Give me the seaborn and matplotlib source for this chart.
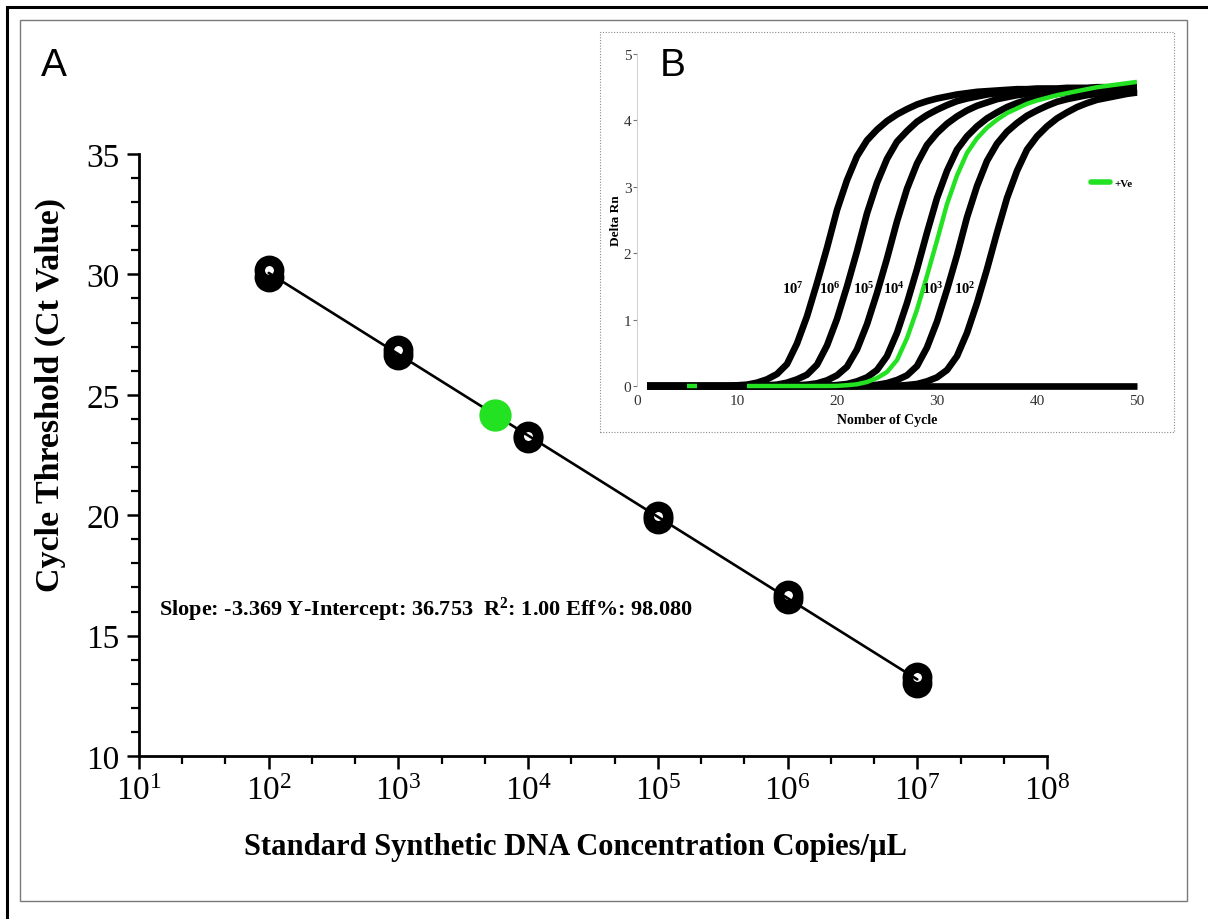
import numpy as np
import pandas as pd
import matplotlib
matplotlib.use("Agg")
import matplotlib.pyplot as plt
import seaborn as sns
from matplotlib.patches import Rectangle
from matplotlib.lines import Line2D
from matplotlib.ticker import FixedLocator, MultipleLocator, NullFormatter

# ---------------- data (panel A: standard curve) ----------------
concentration = [1e2, 1e2, 1e3, 1e3, 1e4, 1e4, 1e5, 1e5, 1e6, 1e6, 1e7, 1e7]
ct_value = [29.9, 30.2, 26.65, 26.85, 23.2, 23.3, 19.85, 19.95, 16.5, 16.7, 13.05, 13.3]
positive_conc = [5.6e3]
positive_ct = [24.15]
x_ticks = [1e1, 1e2, 1e3, 1e4, 1e5, 1e6, 1e7, 1e8]
y_ticks = [10, 15, 20, 25, 30, 35]
stats_text = r"Slope: -3.369 Y-Intercept: 36.753  R$^{\mathbf{2}}$: 1.00 Eff%: 98.080"
x_label = "Standard Synthetic DNA Concentration Copies/µL"
y_label = "Cycle Threshold (Ct Value)"

# ---------------- data (panel B: amplification curves) ----------------
cycles = list(range(1, 51))
curve_1e7 = [0, 0, 0, 0, 0, 0, 0, 0, 0,
             0.01, 0.02, 0.05, 0.10, 0.18, 0.33, 0.64, 1.05, 1.55, 2.08, 2.65,
             3.10, 3.46, 3.70, 3.86, 3.99, 4.09, 4.17, 4.24, 4.29, 4.33,
             4.36, 4.39, 4.41, 4.43, 4.44, 4.45, 4.46, 4.47, 4.47, 4.48,
             4.48, 4.48, 4.49, 4.49, 4.49, 4.50, 4.50, 4.50, 4.50, 4.50]
curve_1e6 = [0, 0, 0, 0, 0, 0, 0, 0, 0, 0, 0, 0,
             0.01, 0.02, 0.05, 0.10, 0.17, 0.32, 0.61, 1.01, 1.50, 2.03, 2.60,
             3.06, 3.42, 3.68, 3.84, 3.98, 4.08, 4.16, 4.23, 4.29, 4.33,
             4.36, 4.39, 4.41, 4.43, 4.44, 4.45, 4.46, 4.47, 4.47, 4.47,
             4.48, 4.48, 4.48, 4.48, 4.49, 4.49, 4.49]
curve_1e5 = [0, 0, 0, 0, 0, 0, 0, 0, 0, 0, 0, 0, 0, 0, 0,
             0.01, 0.02, 0.04, 0.085, 0.16, 0.29, 0.55, 0.93, 1.40, 1.92,
             2.48, 2.97, 3.35, 3.63, 3.81, 3.95, 4.06, 4.15, 4.22, 4.27,
             4.32, 4.35, 4.38, 4.40, 4.42, 4.43, 4.44, 4.45, 4.46, 4.46,
             4.46, 4.47, 4.47, 4.47, 4.48]
curve_1e4 = [0, 0, 0, 0, 0, 0, 0, 0, 0, 0, 0, 0, 0, 0, 0, 0, 0, 0,
             0.005, 0.014, 0.03, 0.07, 0.13, 0.24, 0.45, 0.80, 1.25, 1.76,
             2.31, 2.83, 3.24, 3.56, 3.76, 3.91, 4.03, 4.12, 4.20, 4.26,
             4.31, 4.34, 4.37, 4.40, 4.42, 4.43, 4.44, 4.45, 4.45, 4.46,
             4.46, 4.47]
curve_1e3 = [0, 0, 0, 0, 0, 0, 0, 0, 0, 0, 0, 0, 0, 0, 0, 0, 0, 0, 0, 0, 0, 0,
             0.008, 0.018, 0.044, 0.09, 0.16, 0.30, 0.58, 0.97, 1.45, 1.97,
             2.54, 3.01, 3.39, 3.65, 3.83, 3.96, 4.07, 4.15, 4.22, 4.28,
             4.32, 4.35, 4.38, 4.40, 4.42, 4.43, 4.44, 4.45]
curve_1e2 = [0, 0, 0, 0, 0, 0, 0, 0, 0, 0, 0, 0, 0, 0, 0, 0, 0, 0, 0, 0,
             0, 0, 0, 0, 0,
             0.004, 0.014, 0.03, 0.07, 0.13, 0.24, 0.45, 0.80, 1.25, 1.76,
             2.31, 2.83, 3.24, 3.56, 3.76, 3.91, 4.03, 4.12, 4.20, 4.26,
             4.31, 4.34, 4.37, 4.40, 4.42]
curve_ntc = [0, 0, 0, 0, 0, 0, 0, 0, 0, 0, 0, 0, 0, 0, 0, 0, 0, 0, 0, 0,
             0, 0, 0, 0, 0, 0, 0, 0, 0, 0, 0, 0, 0, 0, 0, 0, 0, 0, 0, 0,
             0, 0, 0, 0, 0, 0, 0, 0, 0, 0]
nan = float("nan")
curve_positive = [nan, nan, nan, nan, 0, 0, nan, nan, nan, nan,
                  0, 0, 0, 0, 0, 0, 0, 0, 0,
                  0.002, 0.012, 0.026, 0.06, 0.12, 0.21, 0.39, 0.72, 1.15, 1.66,
                  2.19, 2.74, 3.17, 3.51, 3.73, 3.89, 4.01, 4.11, 4.18, 4.25,
                  4.30, 4.34, 4.38, 4.41, 4.44, 4.47, 4.50, 4.52, 4.54, 4.56, 4.58]
curve_names = ["1e7", "1e6", "1e5", "1e4", "1e3", "1e2", "NTC"]
curve_labels = [r"$\mathbf{10^{7}}$", r"$\mathbf{10^{6}}$", r"$\mathbf{10^{5}}$",
                r"$\mathbf{10^{4}}$", r"$\mathbf{10^{3}}$", r"$\mathbf{10^{2}}$"]
curve_label_cycle = [15.6, 19.3, 22.7, 25.7, 29.6, 32.8]
curve_label_level = 1.48
inset_x_ticks = [0, 10, 20, 30, 40, 50]
inset_y_ticks = [0, 1, 2, 3, 4, 5]

GREEN = "#22e222"

# ---------------- style ----------------
sns.set_theme(style="ticks")
plt.rcParams["font.family"] = ["Liberation Serif", "DejaVu Serif"]
plt.rcParams["mathtext.fontset"] = "custom"
plt.rcParams["mathtext.rm"] = "Liberation Serif"
plt.rcParams["mathtext.it"] = "Liberation Serif:italic"
plt.rcParams["mathtext.bf"] = "Liberation Serif:bold"
plt.rcParams["text.color"] = "black"
plt.rcParams["axes.labelcolor"] = "black"
plt.rcParams["xtick.color"] = "black"
plt.rcParams["ytick.color"] = "black"

W, H = 1208, 920
fig = plt.figure(figsize=(W / 100, H / 100), dpi=100)
fig.patch.set_facecolor("white")


def fx(px):
    return px / W


def fy(py):
    return 1 - py / H


# ---------------- frames ----------------
fig.patches.append(Rectangle((fx(7), fy(945)), (1240 - 7) / W, (945 - 8) / H,
                             transform=fig.transFigure, fill=False,
                             edgecolor="black", lw=2.2, zorder=1))
fig.patches.append(Rectangle((fx(20), fy(902)), (1187 - 20) / W, (902 - 21) / H,
                             transform=fig.transFigure, fill=False,
                             edgecolor="#7a7a7a", lw=1.0, zorder=1))
fig.patches.append(Rectangle((fx(600), fy(433)), (1174 - 600) / W, (433 - 33) / H,
                             transform=fig.transFigure, facecolor="white",
                             edgecolor="#8a8a8a", lw=0.8, linestyle=(0, (1, 1.5)),
                             zorder=1))

# ---------------- panel A ----------------
ax = fig.add_axes([fx(139), fy(757), (1047 - 139) / W, (757 - 155) / H])
ax.set_zorder(0)
ax.set_facecolor("white")

sns.scatterplot(x=concentration, y=ct_value, color="white", edgecolor="black",
                linewidth=7.5, s=196, zorder=2, ax=ax, legend=False, clip_on=False)
sns.regplot(x=np.array(concentration), y=np.array(ct_value), logx=True, ci=None,
            scatter=False, truncate=True, color="black",
            line_kws=dict(lw=1.9, zorder=3), ax=ax)
sns.scatterplot(x=positive_conc, y=positive_ct, color=GREEN, linewidth=0,
                s=540, zorder=4, ax=ax, legend=False)

ax.set_xscale("log")
ax.set_xlim(x_ticks[0], x_ticks[-1])
ax.set_ylim(y_ticks[0], y_ticks[-1])
ax.set_xticks(x_ticks)
ax.set_xticklabels([r"$\mathdefault{10^{%d}}$" % int(round(np.log10(v))) for v in x_ticks])
ax.xaxis.set_minor_locator(FixedLocator([10 ** (k + f) for k in range(1, 8) for f in (1 / 3, 2 / 3)]))
ax.xaxis.set_minor_formatter(NullFormatter())
ax.set_yticks(y_ticks)
ax.yaxis.set_minor_locator(MultipleLocator(1))
for s in ["top", "right"]:
    ax.spines[s].set_visible(False)
for s in ["left", "bottom"]:
    ax.spines[s].set_linewidth(2.0)
    ax.spines[s].set_color("black")
ax.tick_params(which="major", direction="out", length=9, width=1.8, labelsize=24, pad=5)
ax.tick_params(which="minor", direction="out", length=5.5, width=1.6)
ax.set_xlabel("")
ax.set_ylabel("")
ax.text(14.3, 16.1, stats_text, fontsize=16, fontweight="bold", va="center", ha="left")

fig.text(fx(575), fy(848), x_label, ha="center", va="center", fontsize=22, fontweight="bold")
fig.text(fx(50), fy(395), y_label, ha="center", va="center", rotation=90,
         fontsize=24.5, fontweight="bold")
fig.text(fx(41), fy(76), "A", fontsize=28, family="Liberation Sans", va="baseline", zorder=5)

# ---------------- panel B (inset) ----------------
ax_in = fig.add_axes([fx(637), fy(387), 500 / W, 332 / H])
ax_in.set_zorder(2)
ax_in.patch.set_alpha(0)

series = [curve_1e7, curve_1e6, curve_1e5, curve_1e4, curve_1e3, curve_1e2, curve_ntc]
df = pd.DataFrame({
    "cycle": np.tile(cycles, len(series)),
    "delta_rn": np.concatenate([np.array(v, dtype=float) for v in series]),
    "sample": np.repeat(curve_names, len(cycles)),
})
sns.lineplot(data=df, x="cycle", y="delta_rn", units="sample", estimator=None,
             color="black", lw=4.8, sort=False, legend=False, ax=ax_in,
             clip_on=False, solid_capstyle="butt")
ax_in.plot(cycles, curve_positive, color=GREEN, lw=3.2, zorder=3, clip_on=False,
           solid_capstyle="butt")

for lab, xc in zip(curve_labels, curve_label_cycle):
    ax_in.text(xc, curve_label_level, lab, ha="center", va="center", fontsize=10.5)

ax_in.set_xlim(inset_x_ticks[0], inset_x_ticks[-1])
ax_in.set_ylim(inset_y_ticks[0], inset_y_ticks[-1])
ax_in.set_xticks(inset_x_ticks)
ax_in.set_yticks(inset_y_ticks)
for s in ["top", "right", "bottom"]:
    ax_in.spines[s].set_visible(False)
ax_in.spines["left"].set_color("#c8c8c8")
ax_in.spines["left"].set_linewidth(0.6)
ax_in.tick_params(axis="x", length=0, pad=6, labelsize=11, labelcolor="#333333")
ax_in.tick_params(axis="y", length=3, width=0.8, color="#777777", pad=1,
                  labelsize=11, labelcolor="#333333")
ax_in.set_xlabel("Nomber of Cycle", fontsize=10, fontweight="bold")
ax_in.set_ylabel("Delta Rn", fontsize=9.5, fontweight="bold")
ax_in.xaxis.set_label_coords(0.5, -0.082)
ax_in.yaxis.set_label_coords(-0.03, 0.5)

handle = Line2D([], [], color=GREEN, lw=4)
ax_in.legend([handle], ["+Ve"], loc="center left", bbox_to_anchor=(0.908, 0.61),
             frameon=False, borderpad=0, borderaxespad=0, handlelength=1.7,
             handletextpad=0.4,
             prop={"family": "Liberation Serif", "weight": "bold", "size": 8})

fig.text(fx(660), fy(76), "B", fontsize=28, family="Liberation Sans", va="baseline", zorder=5)

fig.savefig("out.png", dpi=100, facecolor="white")
